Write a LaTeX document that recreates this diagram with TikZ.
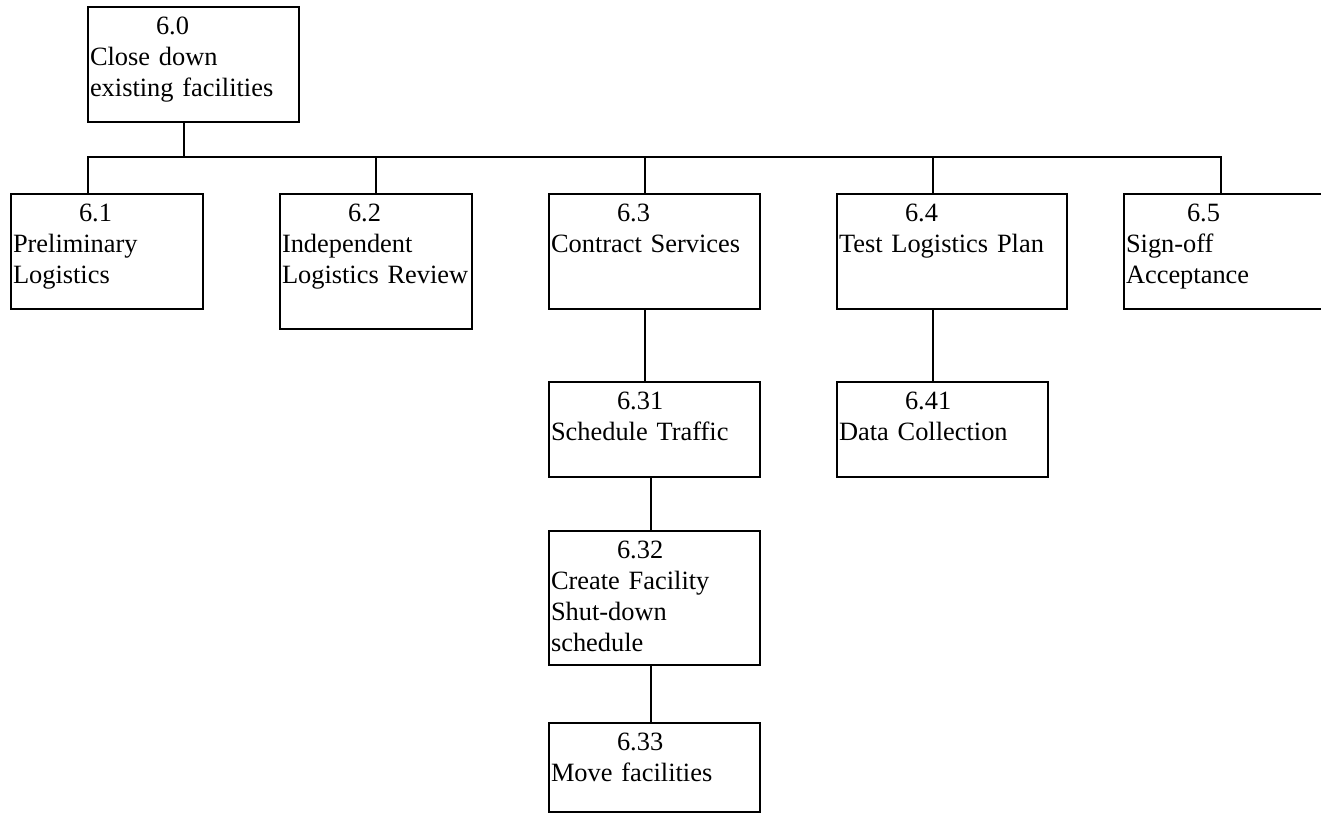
\documentclass[tikz,border=0pt]{standalone}
\usepackage{fontspec}
\setmainfont{Liberation Serif}
\usepackage{tikz}
\usetikzlibrary{positioning,calc}

\newcommand{\wbsfont}{\fontsize{26.4pt}{31pt}\selectfont}
\newcommand{\wbsno}[1]{\hspace*{66pt}#1}

\begin{document}
\begin{tikzpicture}[
    x=1pt, y=-1pt,
    box/.style={rectangle, draw, line width=1.8pt, anchor=north west, outer sep=0pt, inner xsep=2pt, inner ysep=0pt, align=left, text height=27pt, font=\wbsfont},
    link/.style={line width=1.8pt}
]
    \clip (0,0) rectangle (1321,814);

    % top level
    \node[box, text width=207pt, text depth=88pt] (n60) at (88,7) {\wbsno{6.0}\\Close down\\existing facilities};

    % second level
    \node[box, text width=188pt, text depth=88pt] (n61) at (11,194) {\wbsno{6.1}\\Preliminary\\Logistics};
    \node[box, text width=188pt, text depth=108pt] (n62) at (280,194) {\wbsno{6.2}\\Independent\\Logistics Review};
    \node[box, text width=207pt, text depth=88pt] (n63) at (549,194) {\wbsno{6.3}\\Contract Services};
    \node[box, text width=226pt, text depth=88pt] (n64) at (837,194) {\wbsno{6.4}\\Test Logistics Plan};
    \node[box, text width=226pt, text depth=88pt] (n65) at (1124,194) {\hspace*{61pt}6.5\\Sign-off\\Acceptance};

    % third level and below
    \node[box, text width=207pt, text depth=68pt] (n631) at (549,382) {\wbsno{6.31}\\Schedule Traffic};
    \node[box, text width=207pt, text depth=68pt] (n641) at (837,382) {\wbsno{6.41}\\Data Collection};
    \node[box, text width=207pt, text depth=107pt] (n632) at (549,531) {\wbsno{6.32}\\Create Facility\\Shut-down\\schedule};
    \node[box, text width=207pt, text depth=62pt] (n633) at (549,723) {\wbsno{6.33}\\Move facilities};

    % connectors
    \draw[link] ([xshift=96pt]n60.south west) -- ++(0,35);
    \draw[link] ([xshift=77pt]n61.north west) |- ([xshift=97pt,yshift=37pt]n65.north west) -- ([xshift=97pt]n65.north west);
    \draw[link] ([xshift=96pt]n62.north west) -- ++(0,-37);
    \draw[link] ([xshift=96pt]n63.north west) -- ++(0,-37);
    \draw[link] ([xshift=96pt]n64.north west) -- ++(0,-37);
    \draw[link] ([xshift=96pt]n63.south west) -- ([xshift=96pt]n631.north west);
    \draw[link] ([xshift=96pt]n64.south west) -- ([xshift=96pt]n641.north west);
    \draw[link] ([xshift=102pt]n631.south west) -- ([xshift=102pt]n632.north west);
    \draw[link] ([xshift=102pt]n632.south west) -- ([xshift=102pt]n633.north west);
\end{tikzpicture}
\end{document}
